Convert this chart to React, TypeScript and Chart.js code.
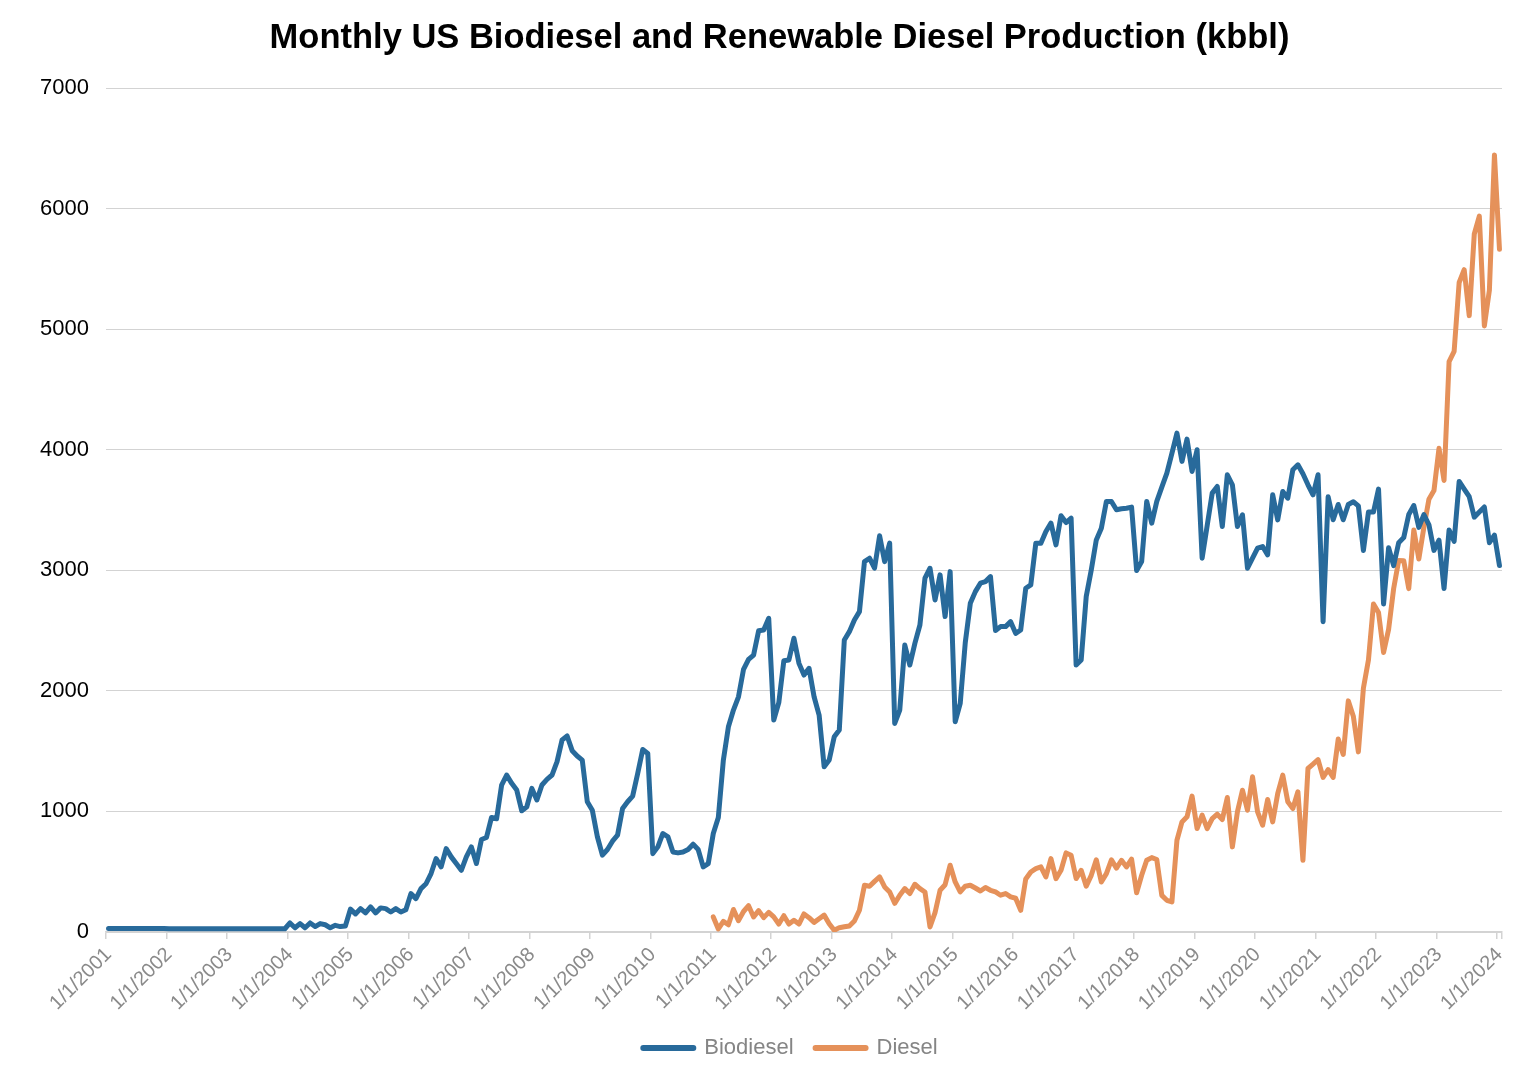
import React, { useEffect, useRef } from "react";
import { Chart, registerables } from "chart.js";

Chart.register(...registerables);

// ---------- DATA (kbbl per month) ----------
const FIRST_YEAR = 2001;
const LAST_YEAR = 2024; // series end in January 2024

// Month labels "M/1/YYYY" from Jan 2001 to Jan 2024
const monthLabels: string[] = [];
for (let y = FIRST_YEAR; y <= LAST_YEAR; y++) {
  for (let m = 1; m <= 12; m++) {
    if (y === LAST_YEAR && m > 1) break;
    monthLabels.push(`${m}/1/${y}`);
  }
}

const biodiesel2001_2004: number[] = [
  30, 30, 30, 30, 30, 30, 30, 30, 30, 30, 30, 30,
  27, 27, 27, 27, 27, 27, 27, 27, 27, 27, 27, 27,
  27, 27, 27, 27, 27, 27, 27, 27, 27, 27, 27, 27,
  75, 35, 70, 35, 75, 45, 70, 60, 35, 55, 45, 50,
];
const biodiesel2005_2008: number[] = [
  190, 150, 194, 158, 208, 158, 200, 194, 166, 194, 166, 185,
  318, 277, 360, 400, 485, 609, 540, 692, 623, 568, 512, 623,
  706, 568, 767, 784, 950, 939, 1219, 1302, 1233, 1177, 1005, 1039,
  1191, 1095, 1219, 1266, 1302, 1413, 1593, 1626, 1504, 1460, 1426, 1080,
];
const biodiesel2009_2012: number[] = [
  1010, 790, 637, 684, 753, 803, 1024, 1080, 1127, 1315, 1514, 1481,
  650, 706, 817, 789, 664, 656, 664, 684, 728, 684, 540, 567,
  817, 949, 1426, 1702, 1841, 1951, 2178, 2261, 2297, 2499, 2505, 2602,
  1758, 1902, 2250, 2256, 2436, 2228, 2131, 2187, 1951, 1799, 1370, 1426,
];
const biodiesel2013_2016: number[] = [
  1620, 1675, 2422, 2491, 2588, 2657, 3072, 3100, 3017, 3286, 3072, 3225,
  1730, 1841, 2380, 2214, 2394, 2546, 2934, 3017, 2754, 2962, 2616, 2989,
  1744, 1896, 2400, 2726, 2823, 2893, 2906, 2948, 2500, 2533, 2533, 2574,
  2477, 2505, 2851, 2879, 3225, 3225, 3322, 3391, 3211, 3452, 3396, 3432,
];
const biodiesel2017_2020: number[] = [
  2214, 2256, 2782, 3003, 3252, 3349, 3571, 3571, 3502, 3510, 3515, 3524,
  2998, 3072, 3571, 3391, 3571, 3690, 3806, 3970, 4138, 3903, 4088, 3820,
  4000, 3100, 3370, 3640, 3695, 3363, 3792, 3709, 3363, 3460, 3017, 3100,
  3183, 3197, 3128, 3626, 3418, 3654, 3598, 3834, 3875, 3800, 3709, 3626,
];
const biodiesel2021_2024: number[] = [
  3792, 2573, 3610, 3419, 3546, 3419, 3546, 3568, 3534, 3165, 3483, 3483,
  3673, 2721, 3187, 3039, 3229, 3271, 3462, 3537, 3356, 3462, 3377, 3165,
  3250, 2848, 3335, 3240, 3737, 3673, 3610, 3441, 3483, 3525, 3229, 3292,
  3039,
];

// Renewable diesel is reported from January 2011 on
const dieselMissing2001_2010: null[] = new Array(120).fill(null);
const diesel2011_2014: number[] = [
  125, 25, 88, 60, 187, 94, 170, 218, 125, 177, 119, 163,
  125, 66, 135, 66, 97, 66, 150, 119, 80, 110, 140, 69,
  14, 36, 43, 50, 91, 180, 388, 379, 420, 457, 374, 332,
  238, 305, 360, 319, 396, 360, 332, 42, 160, 346, 392, 554,
];
const diesel2015_2018: number[] = [
  415, 332, 380, 388, 365, 340, 369, 346, 332, 305, 319, 291,
  280, 180, 440, 498, 526, 540, 457, 609, 443, 512, 656, 637,
  443, 512, 380, 470, 598, 415, 484, 598, 530, 595, 540, 605,
  325, 471, 595, 617, 601, 304, 263, 249, 761, 913, 955, 1127,
];
const diesel2019_2022: number[] = [
  858, 969, 858, 941, 977, 933, 1116, 706, 996, 1176, 1010, 1287,
  996, 886, 1099, 913, 1149, 1301, 1080, 1024, 1163, 595, 1356, 1392,
  1430, 1282, 1346, 1282, 1600, 1473, 1917, 1790, 1494, 2023, 2256, 2721,
  2650, 2319, 2510, 2848, 3081, 3080, 2848, 3335, 3094, 3356, 3589, 3661,
];
const diesel2023_2024: number[] = [
  4012, 3745, 4731, 4816, 5387, 5493, 5112, 5789, 5937, 5027, 5324, 6445,
  5662,
];

const biodieselValues: number[] = [
  ...biodiesel2001_2004,
  ...biodiesel2005_2008,
  ...biodiesel2009_2012,
  ...biodiesel2013_2016,
  ...biodiesel2017_2020,
  ...biodiesel2021_2024,
];
const dieselValues: (number | null)[] = [
  ...dieselMissing2001_2010,
  ...diesel2011_2014,
  ...diesel2015_2018,
  ...diesel2019_2022,
  ...diesel2023_2024,
];

const Y_MIN = 0;
const Y_MAX = 7000;
const Y_STEP = 1000;

const TITLE = "Monthly US Biodiesel and Renewable Diesel Production (kbbl)";
const SERIES_NAMES = ["Biodiesel", "Diesel"];

// ---------- STYLE ----------
const BLUE = "#286a9b";
const ORANGE = "#e5915a";
const GRID = "#d3d3d3";
const FONT = "'Liberation Sans', Arial, Helvetica, sans-serif";

const PAD_RIGHT = 32;
const PAD_BOTTOM = 17;
const PLOT_LEFT = 106;
const PLOT_BOTTOM = 932;
const LEGEND_HEIGHT = 54; // itemHeight 22 + labels.padding 22 + 10
const TITLE_SHIFT = 28.5;
const LEGEND_SHIFT = 39.5;

// Nudge the title and legend horizontally to match the reference placement
const boxShift = {
  id: "boxShift",
  afterLayout(chart: any) {
    if (chart.titleBlock) {
      chart.titleBlock.left += TITLE_SHIFT;
      chart.titleBlock.right += TITLE_SHIFT;
    }
    if (chart.legend) {
      chart.legend.left += LEGEND_SHIFT;
      chart.legend.right += LEGEND_SHIFT;
    }
  },
};

export default function App() {
  const canvasRef = useRef<HTMLCanvasElement | null>(null);

  useEffect(() => {
    if (!canvasRef.current) return;
    const chart = new Chart(canvasRef.current, {
      type: "line",
      plugins: [boxShift],
      data: {
        labels: monthLabels,
        datasets: [
          {
            label: SERIES_NAMES[0],
            data: biodieselValues,
            borderColor: BLUE,
            backgroundColor: BLUE,
            borderWidth: 5,
            pointRadius: 0,
            tension: 0,
            borderCapStyle: "round",
            borderJoinStyle: "round",
          },
          {
            label: SERIES_NAMES[1],
            data: dieselValues,
            borderColor: ORANGE,
            backgroundColor: ORANGE,
            borderWidth: 5,
            pointRadius: 0,
            tension: 0,
            borderCapStyle: "round",
            borderJoinStyle: "round",
            spanGaps: false,
          },
        ],
      },
      options: {
        animation: false,
        responsive: true,
        maintainAspectRatio: false,
        layout: { padding: { left: 0, right: PAD_RIGHT, top: 0, bottom: PAD_BOTTOM } },
        plugins: {
          tooltip: { enabled: false },
          title: {
            display: true,
            text: TITLE,
            color: "#000",
            font: { family: FONT, size: 34.5, weight: "bold" },
            padding: { top: 18, bottom: 28.6 },
          },
          legend: {
            display: true,
            position: "bottom",
            labels: {
              usePointStyle: true,
              pointStyle: "line",
              pointStyleWidth: 50,
              color: "#858585",
              font: { family: FONT, size: 22 },
              padding: 22,
              generateLabels: (chart: any) => {
                const items = Chart.defaults.plugins.legend.labels.generateLabels(chart);
                items.forEach((it: any) => {
                  it.lineWidth = 6;
                  it.lineCap = "round";
                });
                return items;
              },
            },
          },
        },
        scales: {
          x: {
            type: "category",
            offset: true,
            afterFit: (scale: any) => {
              scale.height = 1086 - PAD_BOTTOM - LEGEND_HEIGHT - PLOT_BOTTOM;
            },
            grid: {
              offset: true,
              drawOnChartArea: false,
              drawTicks: true,
              tickLength: 7,
              lineWidth: 1.5,
              color: (ctx: any) =>
                ctx.index === undefined || ctx.index % 12 === 0 ? GRID : "rgba(0,0,0,0)",
            },
            border: { display: true, color: GRID, width: 1.5 },
            ticks: {
              autoSkip: false,
              minRotation: 45,
              maxRotation: 45,
              padding: 4,
              color: "#8a8a8a",
              font: { family: FONT, size: 20 },
              callback: (_v: any, index: number) =>
                index % 12 === 0 ? monthLabels[index] : "",
            },
          },
          y: {
            min: Y_MIN,
            max: Y_MAX,
            afterFit: (scale: any) => {
              scale.width = PLOT_LEFT;
            },
            grid: { color: GRID, drawTicks: false, lineWidth: 1 },
            border: { display: false },
            ticks: {
              stepSize: Y_STEP,
              padding: 17,
              color: "#000",
              font: { family: FONT, size: 22 },
              callback: (v: any) => String(v),
            },
          },
        },
      },
    });
    return () => chart.destroy();
  }, []);

  return (
    <div
      style={{
        position: "fixed",
        left: 0,
        top: 0,
        width: 1534,
        height: 1086,
        background: "#fff",
      }}
    >
      <canvas ref={canvasRef} />
    </div>
  );
}
